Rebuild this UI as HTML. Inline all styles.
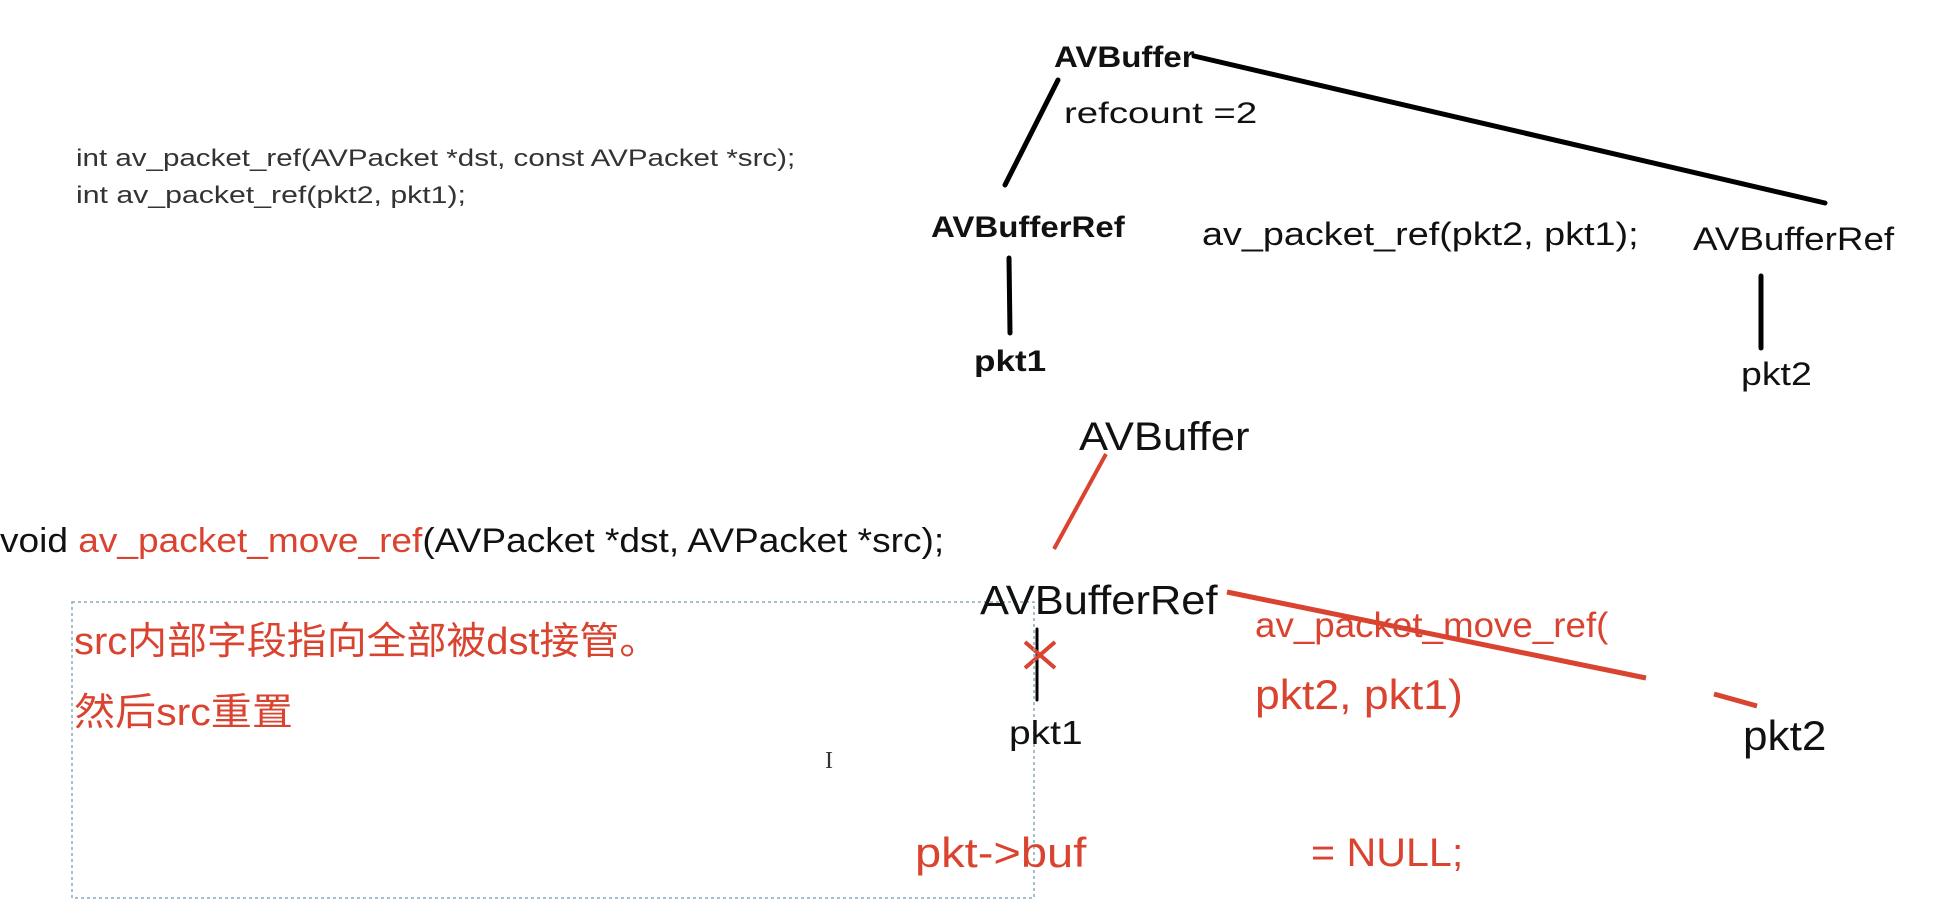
<!DOCTYPE html>
<html><head><meta charset="utf-8"><style>
body{margin:0;width:1934px;height:904px;background:#fff;position:relative;overflow:hidden;font-family:"Liberation Sans","Noto Sans CJK SC",sans-serif;color:#111}
.t{position:absolute;white-space:nowrap;line-height:1;transform-origin:0 50%}
.r{color:#d9432f}
</style></head><body>
<svg width="1934" height="904" style="position:absolute;left:0;top:0">
<g stroke="#000" stroke-width="5" stroke-linecap="round">
<line x1="1058" y1="80" x2="1005" y2="185"/>
<line x1="1194" y1="56" x2="1825" y2="203"/>
<line x1="1009" y1="258" x2="1010" y2="333"/>
<line x1="1761" y1="276" x2="1761" y2="348"/>
<line x1="1037" y1="629" x2="1037" y2="700" stroke-width="3"/>
</g>
<g stroke="#d9432f" stroke-width="4">
<line x1="1106" y1="454" x2="1054" y2="549"/>
<line x1="1227" y1="592" x2="1646" y2="678" stroke-width="5"/>
<line x1="1714" y1="694" x2="1757" y2="706" stroke-width="5"/>
<line x1="1025" y1="642" x2="1055" y2="668"/>
<line x1="1055" y1="642" x2="1025" y2="668"/>
</g>
<rect x="72" y="602" width="962" height="296" fill="none" stroke="#8ab" stroke-width="1.5" stroke-dasharray="3,3"/>
<text x="825" y="768" font-family="Liberation Serif" font-size="24" fill="#333">I</text>
</svg>
<div class="t" style="left:76px;top:147px;font-size:24px;color:#333;transform:scaleX(1.23)">int av_packet_ref(AVPacket *dst, const AVPacket *src);</div>
<div class="t" style="left:76px;top:184px;font-size:24px;color:#333;transform:scaleX(1.26)">int av_packet_ref(pkt2, pkt1);</div>
<div class="t" style="left:1054px;top:43px;font-size:30px;font-weight:bold;transform:scaleX(1.10)">AVBuffer</div>
<div class="t" style="left:1064px;top:99px;font-size:30px;transform:scaleX(1.28)">refcount =2</div>
<div class="t" style="left:931px;top:213px;font-size:30px;font-weight:bold;transform:scaleX(1.10)">AVBufferRef</div>
<div class="t" style="left:1202px;top:218px;font-size:32px;transform:scaleX(1.18)">av_packet_ref(pkt2, pkt1);</div>
<div class="t" style="left:1693px;top:223px;font-size:32px;transform:scaleX(1.15)">AVBufferRef</div>
<div class="t" style="left:974px;top:347px;font-size:30px;font-weight:bold;transform:scaleX(1.17)">pkt1</div>
<div class="t" style="left:1741px;top:358px;font-size:32px;transform:scaleX(1.17)">pkt2</div>
<div class="t" style="left:1079px;top:417px;font-size:40px;transform:scaleX(1.09)">AVBuffer</div>
<div class="t" style="left:0px;top:524px;font-size:34px;transform:scaleX(1.09)">void <span class="r">av_packet_move_ref</span>(AVPacket *dst, AVPacket *src);</div>
<div class="t" style="left:980px;top:580px;font-size:41px;transform:scaleX(1.06)">AVBufferRef</div>
<div class="t r" style="left:74px;top:623px;font-size:38px;transform:scaleX(1.05)">src内部字段指向全部被dst接管。</div>
<div class="t r" style="left:74px;top:694px;font-size:38px;transform:scaleX(1.08)">然后src重置</div>
<div class="t r" style="left:1255px;top:608px;font-size:35px;transform:scaleX(1.05)">av_packet_move_ref(</div>
<div class="t r" style="left:1255px;top:674px;font-size:42px;transform:scaleX(1.06)">pkt2, pkt1)</div>
<div class="t" style="left:1009px;top:716px;font-size:33px;transform:scaleX(1.18)">pkt1</div>
<div class="t" style="left:1743px;top:715px;font-size:42px;transform:scaleX(1.05)">pkt2</div>
<div class="t r" style="left:915px;top:832px;font-size:42px;transform:scaleX(1.12)">pkt-&gt;buf</div>
<div class="t r" style="left:1311px;top:833px;font-size:40px;transform:scaleX(1.03)">= NULL;</div>
</body></html>
